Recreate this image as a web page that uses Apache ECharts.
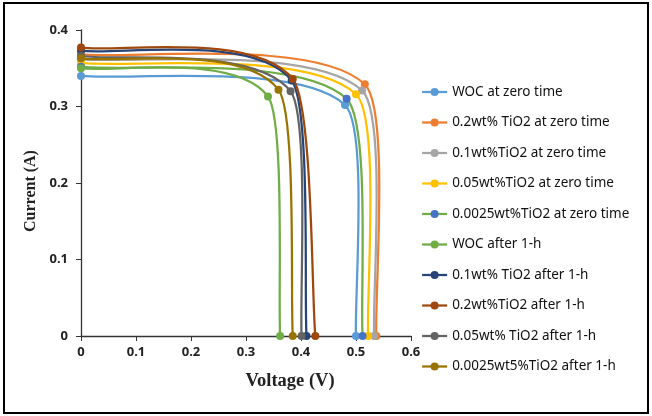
<!DOCTYPE html>
<html>
<head>
<meta charset="utf-8">
<script src="https://cdn.jsdelivr.net/npm/echarts@6/dist/echarts.min.js"></script>
<style>html,body{margin:0;padding:0;background:#fff;}#c{width:652px;height:416px;}</style>
</head>
<body>
<div id="c"></div>
<script>
// Series names (legend order)
const seriesNames = [
  'WOC at zero time',
  '0.2wt% TiO2 at zero time',
  '0.1wt%TiO2 at zero time',
  '0.05wt%TiO2 at zero time',
  '0.0025wt%TiO2 at zero time',
  'WOC after 1-h',
  '0.1wt% TiO2 after 1-h',
  '0.2wt%TiO2 after 1-h',
  '0.05wt% TiO2 after 1-h',
  '0.0025wt5%TiO2 after 1-h'
];
// Voltage (V) values for each series: start, knee, open-circuit
const voltage = [
  [0, 0.480, 0.500],
  [0, 0.516, 0.537],
  [0, 0.511, 0.533],
  [0, 0.500, 0.522],
  [0, 0.483, 0.512],
  [0, 0.340, 0.362],
  [0, 0.383, 0.410],
  [0, 0.385, 0.426],
  [0, 0.381, 0.401],
  [0, 0.359, 0.385]
];
// Current (A) values for each series
const current = [
  [0.340, 0.302, 0],
  [0.368, 0.329, 0],
  [0.362, 0.321, 0],
  [0.357, 0.316, 0],
  [0.352, 0.310, 0],
  [0.350, 0.313, 0],
  [0.373, 0.334, 0],
  [0.377, 0.336, 0],
  [0.366, 0.320, 0],
  [0.363, 0.322, 0]
];
const xTicks = [0, 0.1, 0.2, 0.3, 0.4, 0.5, 0.6];
const yTicks = [0, 0.1, 0.2, 0.3, 0.4];

const lineColors = ['#5B9BD5','#ED7D31','#A5A5A5','#FFC000','#70AD47','#70AD47','#264478','#9E480E','#636363','#997300'];
const markerColors = ['#5B9BD5','#ED7D31','#A5A5A5','#FFC000','#4472C4','#70AD47','#264478','#9E480E','#636363','#997300'];
const LW = 2.25;
const S_IN = 1 / 6, S_OUT = 0.085;

// Smoothed curve through the points (Bezier, Excel-like), in pixel space via api.coord
function curveItem(params, api) {
  const i = api.value(2);
  const pts = voltage[i].map((v, j) => api.coord([v, current[i][j]]));
  let d = 'M' + pts[0][0] + ',' + pts[0][1];
  const n = pts.length;
  for (let k = 0; k < n - 1; k++) {
    const p0 = pts[k - 1] || pts[k];
    const p1 = pts[k];
    const p2 = pts[k + 1];
    const p3 = pts[k + 2] || pts[k + 1];
    const so = (k === 0) ? 1 / 6 : S_OUT;
    const si = (k + 2 < n) ? S_IN : 1 / 6;
    const c1x = p1[0] + (p2[0] - p0[0]) * so, c1y = p1[1] + (p2[1] - p0[1]) * so;
    const c2x = p2[0] - (p3[0] - p1[0]) * si, c2y = p2[1] - (p3[1] - p1[1]) * si;
    d += ' C' + c1x + ',' + c1y + ' ' + c2x + ',' + c2y + ' ' + p2[0] + ',' + p2[1];
  }
  return {
    type: 'path',
    shape: { pathData: d },
    style: { fill: 'none', stroke: lineColors[i], lineWidth: LW, lineCap: 'round', lineJoin: 'round' },
    silent: true
  };
}

const series = [];
seriesNames.forEach((name, i) => {
  series.push({
    type: 'custom',
    coordinateSystem: 'cartesian2d',
    renderItem: curveItem,
    data: [[voltage[i][0], current[i][0], i]],
    encode: { x: 0, y: 1 },
    silent: true,
    animation: false
  });
  series.push({
    name: name,
    type: 'line',
    symbol: 'circle',
    symbolSize: 8,
    data: voltage[i].map((v, j) => [v, current[i][j]]),
    lineStyle: { color: lineColors[i], width: LW, opacity: 0 },
    itemStyle: { color: markerColors[i] },
    emphasis: { disabled: true },
    animation: false
  });
});

const chart = echarts.init(document.getElementById('c'), null, { renderer: 'canvas' });
chart.setOption({
  backgroundColor: '#fff',
  animation: false,
  graphic: [{
    type: 'rect',
    shape: { x: 4, y: 3, width: 644, height: 410 },
    style: { fill: 'none', stroke: '#000', lineWidth: 2 },
    silent: true
  }],
  grid: { left: 81, top: 30, width: 330, height: 306 },
  xAxis: {
    type: 'value',
    min: xTicks[0], max: xTicks[xTicks.length - 1], interval: 0.1,
    name: 'Voltage (V)',
    nameLocation: 'middle',
    nameGap: 36,
    nameTextStyle: { fontFamily: 'Liberation Serif', fontWeight: 'bold', fontSize: 18.5, color: '#222', padding: [0, 0, 0, 88] },
    axisLine: { lineStyle: { color: '#333', width: 1.3 } },
    axisTick: { show: true, length: 5, lineStyle: { color: '#333' } },
    axisLabel: { fontFamily: 'Noto Sans', fontWeight: 'bold', fontSize: 13, color: '#222', margin: 10,
      formatter: v => String(Math.round(v * 10) / 10) },
    splitLine: { show: false }
  },
  yAxis: {
    type: 'value',
    min: yTicks[0], max: yTicks[yTicks.length - 1], interval: 0.1,
    name: 'Current (A)',
    nameLocation: 'middle',
    nameGap: 38,
    nameRotate: 90,
    nameTextStyle: { fontFamily: 'Liberation Serif', fontWeight: 'bold', fontSize: 16, color: '#222', padding: [0, 16, 0, 0] },
    axisLine: { show: true, lineStyle: { color: '#333', width: 1.3 } },
    axisTick: { show: true, length: 5, lineStyle: { color: '#333' } },
    axisLabel: { fontFamily: 'Noto Sans', fontWeight: 'bold', fontSize: 13, color: '#222', margin: 13,
      formatter: v => String(Math.round(v * 10) / 10) },
    splitLine: { show: false }
  },
  legend: {
    orient: 'vertical',
    left: 416,
    top: 80,
    itemWidth: 25,
    itemHeight: 10,
    itemGap: 16.5,
    data: seriesNames.map((name, i) => ({
      name: name,
      lineStyle: { color: lineColors[i], width: LW, opacity: 1 },
      itemStyle: { color: markerColors[i] }
    })),
    textStyle: { fontFamily: 'Noto Sans', fontSize: 13.5, color: '#111' }
  },
  series: series
});
</script>
</body>
</html>
